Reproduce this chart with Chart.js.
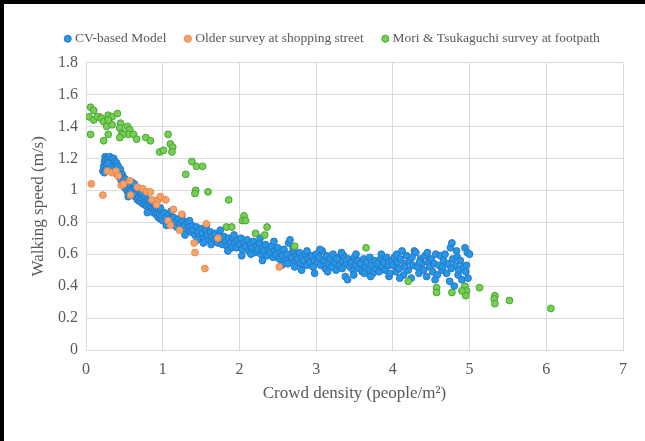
<!DOCTYPE html>
<html>
<head>
<meta charset="utf-8">
<script src="https://cdn.jsdelivr.net/npm/chart.js@4"></script>
<style>
  html, body { margin: 0; padding: 0; background: #fff; }
  #wrap {
    width: 641px;
    height: 437px;
    border-left: 4px solid #000;
    border-top: 4px solid #000;
    position: relative;
  }
</style>
</head>
<body>
<div id="wrap"><canvas id="speedChart" width="641" height="437"></canvas></div>
<script>
// CV-based model: [crowd density, walking speed]
const cvPoints = [
  [0.22,1.12],[0.23,1.15],[0.24,1.18],[0.25,1.21],[0.26,1.19],[0.27,1.16],[0.28,1.20],[0.29,1.13],
  [0.30,1.18],[0.31,1.21],[0.32,1.15],[0.33,1.19],[0.34,1.17],[0.35,1.12],[0.36,1.20],[0.37,1.16],
  [0.38,1.18],[0.39,1.14],[0.40,1.17],[0.41,1.10],[0.42,1.15],[0.43,1.12],[0.44,1.08],[0.45,1.13],
  [0.46,1.06],[0.47,1.10],[0.48,1.04],[0.49,1.08],[0.50,1.02],[0.26,1.13],[0.29,1.17],[0.33,1.14],
  [0.37,1.11],[0.24,1.11],
  [0.51,1.07],[0.52,1.01],[0.53,1.04],[0.54,0.99],[0.55,1.05],[0.56,1.02],[0.57,0.98],[0.58,1.03],
  [0.59,1.00],[0.60,1.05],[0.61,0.97],[0.62,1.02],[0.63,0.99],[0.64,0.96],[0.65,1.01],[0.66,0.98],
  [0.67,0.94],[0.68,1.00],[0.69,0.96],[0.70,0.93],[0.71,0.98],[0.72,0.95],[0.73,0.92],[0.74,0.97],
  [0.75,0.94],[0.76,0.91],[0.77,0.96],[0.78,0.93],[0.79,0.90],[0.80,0.94],[0.81,0.91],[0.82,0.88],
  [0.83,0.93],[0.84,0.90],[0.85,0.87],[0.86,0.92],[0.87,0.89],[0.88,0.86],[0.89,0.91],[0.90,0.88],
  [0.91,0.85],[0.92,0.89],[0.93,0.86],[0.94,0.83],[0.95,0.88],[0.96,0.85],[0.97,0.82],[0.98,0.87],
  [0.99,0.84],[1.00,0.81],[0.55,0.96],[0.63,1.04],[0.72,0.99],[0.80,0.86],[0.90,0.92],[0.97,0.89],
  [1.02,0.86],[1.04,0.83],[1.06,0.80],[1.08,0.85],[1.10,0.82],[1.12,0.79],[1.14,0.83],[1.16,0.80],
  [1.18,0.77],[1.20,0.82],[1.22,0.79],[1.24,0.76],[1.26,0.81],[1.28,0.78],[1.30,0.75],[1.32,0.80],
  [1.34,0.77],[1.36,0.74],[1.38,0.78],[1.40,0.75],[1.42,0.72],[1.44,0.77],[1.46,0.74],[1.48,0.71],
  [1.50,0.76],[1.52,0.73],[1.54,0.70],[1.56,0.75],[1.58,0.72],[1.60,0.69],[1.62,0.74],[1.64,0.71],
  [1.66,0.68],[1.68,0.73],[1.70,0.70],[1.72,0.67],[1.74,0.72],[1.76,0.69],[1.78,0.66],[1.80,0.71],
  [1.82,0.68],[1.84,0.65],[1.86,0.70],[1.88,0.67],[1.90,0.64],[1.92,0.70],[1.94,0.67],[1.96,0.64],
  [1.98,0.69],[1.11,0.87],[1.25,0.84],[1.35,0.81],[1.45,0.69],[1.57,0.78],[1.63,0.66],[1.75,0.75],
  [1.85,0.62],[1.93,0.72],[1.05,0.78],[1.29,0.72],[1.53,0.67],
  [2.00,0.66],[2.02,0.70],[2.04,0.63],[2.06,0.67],[2.08,0.65],[2.10,0.69],[2.12,0.62],[2.14,0.66],
  [2.16,0.64],[2.18,0.68],[2.20,0.61],[2.22,0.65],[2.24,0.63],[2.26,0.67],[2.28,0.60],[2.30,0.64],
  [2.32,0.62],[2.34,0.66],[2.36,0.59],[2.38,0.63],[2.40,0.61],[2.42,0.65],[2.44,0.58],[2.46,0.62],
  [2.48,0.60],[2.50,0.64],[2.52,0.57],[2.54,0.61],[2.56,0.59],[2.58,0.63],[2.60,0.56],[2.62,0.60],
  [2.64,0.67],[2.66,0.69],[2.68,0.58],[2.70,0.62],[2.72,0.55],[2.74,0.59],[2.76,0.57],[2.78,0.61],
  [2.80,0.54],[2.82,0.58],[2.84,0.56],[2.86,0.60],[2.88,0.53],[2.90,0.57],[2.92,0.55],[2.94,0.59],
  [2.96,0.52],[2.98,0.56],[2.81,0.50],[2.98,0.48],[2.30,0.56],[2.55,0.53],[2.15,0.60],[2.45,0.68],
  [2.70,0.64],[2.88,0.62],[2.03,0.59],[2.27,0.70],[2.63,0.54],[2.72,0.52],
  [3.00,0.60],[3.02,0.55],[3.04,0.58],[3.06,0.53],[3.08,0.62],[3.10,0.56],[3.12,0.51],[3.14,0.59],
  [3.16,0.54],[3.18,0.57],[3.20,0.52],[3.22,0.60],[3.24,0.55],[3.26,0.50],[3.28,0.58],[3.30,0.53],
  [3.32,0.56],[3.34,0.51],[3.36,0.59],[3.38,0.46],[3.40,0.54],[3.41,0.44],[3.42,0.57],[3.44,0.52],
  [3.46,0.55],[3.48,0.50],[3.49,0.47],[3.50,0.58],[3.52,0.53],[3.54,0.56],[3.56,0.51],[3.58,0.54],
  [3.60,0.49],[3.62,0.57],[3.64,0.52],[3.66,0.55],[3.68,0.50],[3.70,0.58],[3.72,0.53],[3.74,0.48],
  [3.76,0.56],[3.78,0.51],[3.80,0.54],[3.82,0.49],[3.84,0.57],[3.86,0.52],[3.88,0.55],[3.90,0.50],
  [3.92,0.58],[3.94,0.53],[3.95,0.46],[3.96,0.48],[3.98,0.56],[3.05,0.63],[3.15,0.49],[3.33,0.61],
  [3.52,0.60],[3.71,0.46],[3.85,0.60],[3.27,0.57],[3.63,0.48],
  [4.00,0.53],[4.02,0.58],[4.04,0.49],[4.05,0.60],[4.06,0.55],[4.08,0.51],[4.10,0.57],[4.12,0.62],
  [4.14,0.47],[4.16,0.54],[4.18,0.59],[4.20,0.50],[4.22,0.56],[4.24,0.45],[4.26,0.53],[4.28,0.62],
  [4.30,0.61],[4.32,0.52],[4.34,0.48],[4.36,0.57],[4.38,0.54],[4.40,0.50],[4.42,0.59],[4.44,0.46],
  [4.46,0.55],[4.48,0.52],[4.50,0.57],[4.52,0.49],[4.54,0.54],[4.56,0.60],[4.58,0.47],[4.60,0.53],
  [4.62,0.59],[4.64,0.50],[4.66,0.56],[4.68,0.60],[4.70,0.48],[4.72,0.54],[4.74,0.43],[4.75,0.64],
  [4.76,0.51],[4.77,0.67],[4.78,0.57],[4.80,0.40],[4.82,0.53],[4.84,0.58],[4.85,0.47],[4.86,0.50],
  [4.88,0.56],[4.90,0.44],[4.92,0.52],[4.94,0.64],[4.95,0.49],[4.96,0.53],[4.97,0.61],[4.98,0.45],
  [5.00,0.60],[4.09,0.45],[4.25,0.58],[4.45,0.61],[4.55,0.44],[4.65,0.52],[4.83,0.62],[4.35,0.55],
  [4.15,0.52]
];

// older survey at shopping street
const olderPoints = [
  [0.07,1.04],[0.22,0.97],[0.18,1.46],[0.28,1.12],[0.34,1.11],[0.39,1.12],[0.42,1.09],[0.46,1.03],
  [0.49,1.04],[0.57,1.06],[0.58,0.97],[0.67,1.02],[0.74,1.01],[0.79,0.99],[0.84,0.99],[0.86,0.94],
  [0.94,0.94],[0.97,0.96],[1.04,0.94],[0.92,0.91],[1.14,0.88],[1.25,0.85],[1.07,0.81],[1.10,0.78],
  [1.22,0.75],[1.57,0.79],[1.41,0.67],[1.42,0.61],[1.55,0.51],[1.72,0.70],[2.52,0.52]
];

// Mori & Tsukaguchi survey at footpath
const moriPoints = [
  [0.06,1.52],[0.10,1.50],[0.04,1.46],[0.10,1.44],[0.15,1.46],[0.20,1.45],[0.23,1.43],[0.29,1.47],
  [0.34,1.46],[0.41,1.48],[0.27,1.40],[0.34,1.41],[0.29,1.44],[0.45,1.42],[0.44,1.39],[0.47,1.36],
  [0.54,1.40],[0.57,1.38],[0.55,1.35],[0.62,1.35],[0.66,1.32],[0.48,1.35],[0.44,1.33],[0.06,1.35],
  [0.23,1.31],[0.29,1.35],[0.78,1.33],[0.84,1.31],[1.07,1.35],[1.10,1.29],[1.13,1.27],[1.12,1.24],
  [0.96,1.24],[1.01,1.25],[1.38,1.18],[1.44,1.15],[1.52,1.15],[1.30,1.10],[1.43,1.00],[1.42,0.98],
  [1.59,0.99],[1.86,0.94],[2.06,0.84],[2.04,0.81],[2.08,0.81],[1.83,0.77],[1.90,0.77],[2.21,0.73],
  [2.33,0.72],[2.36,0.77],[2.72,0.65],[3.65,0.64],[4.20,0.43],[4.57,0.39],[4.57,0.36],[4.77,0.36],
  [4.94,0.40],[4.96,0.37],[4.95,0.34],[4.90,0.37],[5.13,0.39],[5.33,0.34],[5.32,0.32],[5.33,0.29],
  [5.52,0.31],[6.06,0.26]
];

const xTickLabels = ['0', '1', '2', '3', '4', '5', '6', '7'];
const yTickLabels = ['0', '0.2', '0.4', '0.6', '0.8', '1', '1.2', '1.4', '1.6', '1.8'];

const FONT = "'Liberation Serif', 'Times New Roman', serif";
const TEXT_GREY = "#595959";
const GRID_GREY = "#d9d9d9";

function toXY(points) {
  return points.map(([x, y]) => ({ x: x, y: y }));
}

// extra room under the legend, and nudge it right like the original
const legendTweak = {
  id: "legendTweak",
  beforeInit(chart) {
    const legend = chart.legend;
    const fit = legend.fit;
    const draw = legend.draw;
    legend.fit = function () {
      fit.call(this);
      this.height += 7;
    };
    legend.draw = function () {
      this.ctx.save();
      this.ctx.translate(20, 0);
      draw.call(this);
      this.ctx.restore();
    };
  },
};

const ctx = document.getElementById("speedChart").getContext("2d");

new Chart(ctx, {
  type: "scatter",
  data: {
    datasets: [
      {
        label: "CV-based Model",
        data: toXY(cvPoints),
        backgroundColor: "#1f9ae8",
        borderColor: "#3472c4",
        order: 3,
      },
      {
        label: "Older survey at shopping street",
        data: toXY(olderPoints),
        backgroundColor: "#f5a36c",
        borderColor: "#ec8543",
        order: 2,
      },
      {
        label: "Mori & Tsukaguchi survey at footpath",
        data: toXY(moriPoints),
        backgroundColor: "#7bcc52",
        borderColor: "#3ea832",
        order: 1,
      },
    ],
  },
  plugins: [legendTweak],
  options: {
    responsive: false,
    animation: false,
    layout: {
      padding: { top: 7, left: 0, right: 22, bottom: 37 },
    },
    elements: {
      point: { radius: 3.4, borderWidth: 1, hoverRadius: 3.4 },
    },
    plugins: {
      tooltip: { enabled: false },
      legend: {
        display: true,
        position: "top",
        align: "center",
        labels: {
          usePointStyle: true,
          pointStyle: "circle",
          boxWidth: 1,
          boxHeight: 5,
          padding: 21,
          color: TEXT_GREY,
          font: { size: 13.5, family: FONT },
          sort: (a, b) => a.datasetIndex - b.datasetIndex,
        },
      },
    },
    scales: {
      x: {
        type: "linear",
        min: 0,
        max: 7,
        border: { display: true, color: GRID_GREY },
        grid: { color: GRID_GREY, drawTicks: false },
        ticks: {
          stepSize: 1,
          padding: 10,
          color: TEXT_GREY,
          font: { size: 16, family: FONT },
          callback: (v) => xTickLabels[Math.round(v)],
        },
        title: {
          display: true,
          text: "Crowd density (people/m²)",
          color: TEXT_GREY,
          font: { size: 17, family: FONT },
          padding: { top: 0, bottom: 0 },
        },
        afterFit: (scale) => { scale.height = 54; },
      },
      y: {
        type: "linear",
        min: 0,
        max: 1.8,
        border: { display: false },
        grid: { color: GRID_GREY, drawTicks: false },
        ticks: {
          stepSize: 0.2,
          padding: 8,
          color: TEXT_GREY,
          font: { size: 16, family: FONT },
          callback: (v) => yTickLabels[Math.round(v * 5)],
        },
        title: {
          display: true,
          text: "Walking speed (m/s)",
          color: TEXT_GREY,
          font: { size: 17, family: FONT },
          padding: { top: 24, bottom: 0 },
        },
        afterFit: (scale) => { scale.width = 82; },
      },
    },
  },
});
</script>
</body>
</html>
